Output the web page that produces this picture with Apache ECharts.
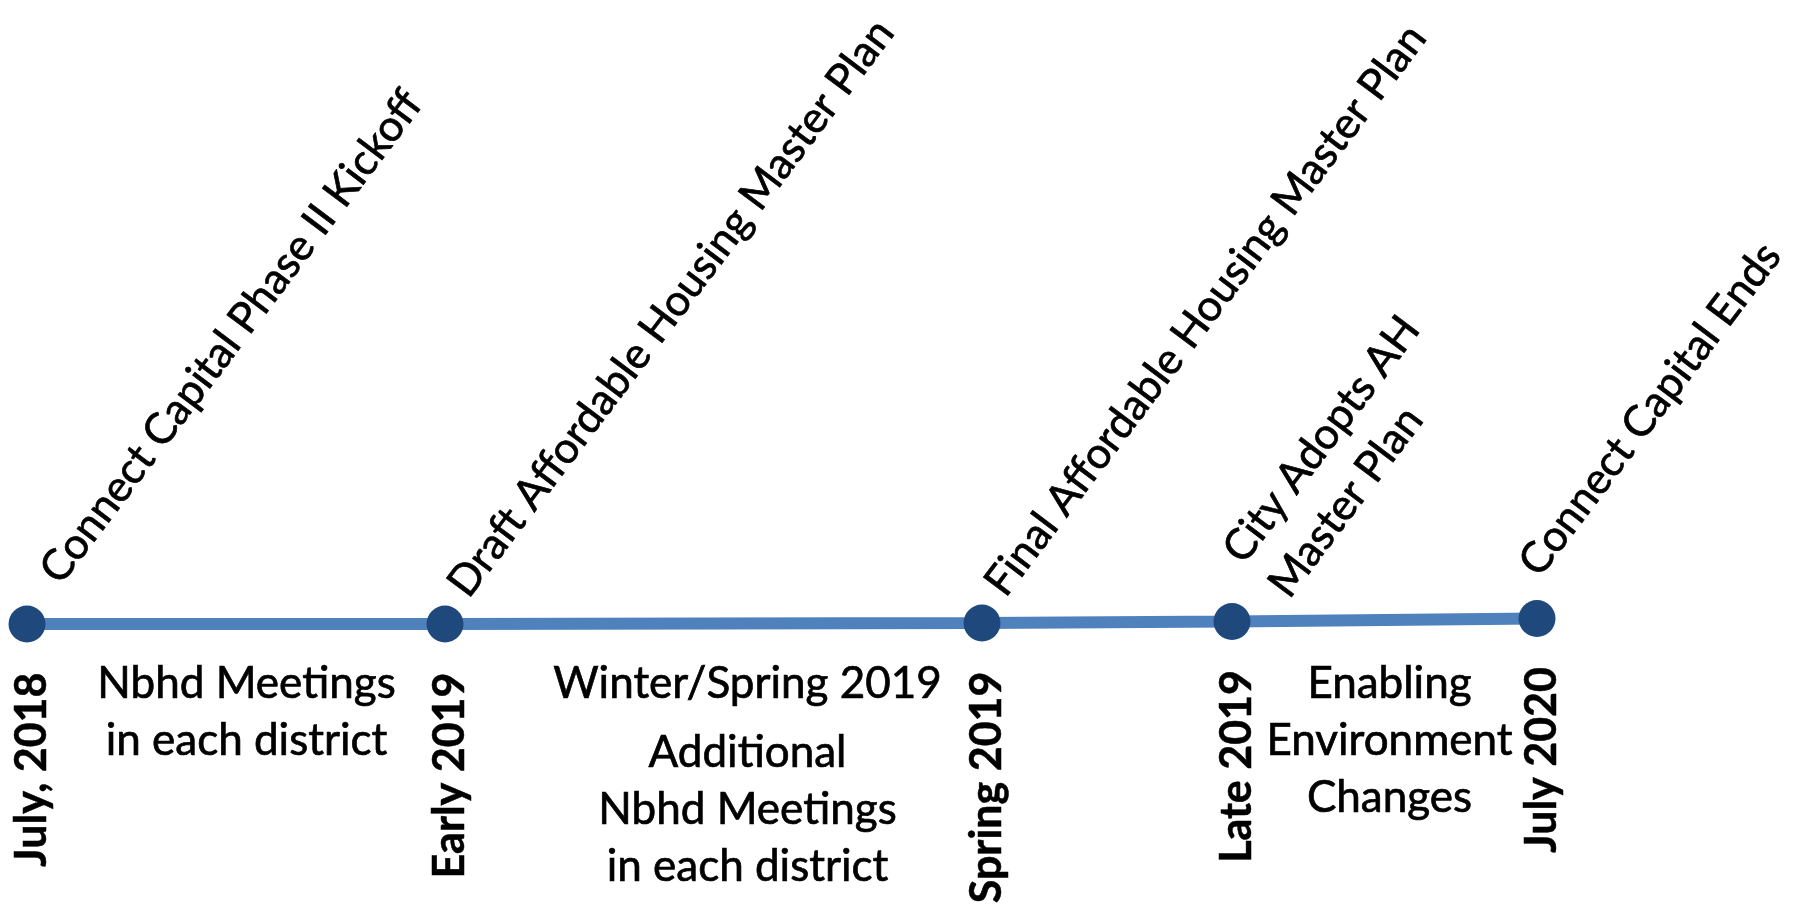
<!DOCTYPE html>
<html>
<head>
<meta charset="utf-8">
<title>Connect Capital Timeline</title>
<script src="https://cdn.jsdelivr.net/npm/echarts@6.0.0/dist/echarts.min.js"></script>
<style>
  html, body { margin: 0; padding: 0; background: #ffffff; }
  #chart { width: 1796px; height: 911px; }
</style>
</head>
<body>
<div id="chart"></div>
<script>
// Milestones of the Connect Capital programme
const milestoneDates = ['July, 2018', 'Early 2019', 'Spring 2019', 'Late 2019', 'July 2020'];
const milestoneEvents = [
  'Connect Capital Phase II Kickoff',
  'Draft Affordable Housing Master Plan',
  'Final Affordable Housing Master Plan',
  'City Adopts AH\nMaster Plan',
  'Connect Capital Ends'
];
// Where each milestone sits along the timeline
const milestonePos = [0, 4.18, 9.55, 12.05, 15.1];
// The timeline rises very slightly toward its end
const milestoneLevel = [0, 0, 0.1, 0.25, 0.55];

// Activities that run between milestones (a blank line starts a new paragraph)
const activityPos = [2.2, 7.21, 13.63];
const activityText = [
  'Nbhd Meetings\nin each district',
  'Winter/Spring 2019\n\nAdditional\nNbhd Meetings\nin each district',
  'Enabling\nEnvironment\nChanges'
];

const FONT = 'Lato';
const EVENT_SIZE = 43;
const NOTE_SIZE = 44;
const LINE_H = 57;
const EVENT_ANGLE = 53;
const INK = '#000000';
// a hairline outline gives the regular text a touch more weight
const inkWeight = { textBorderColor: INK, textBorderWidth: 0.7 };

// Slanted event captions: base anchor next to the dot, then a small
// per-caption nudge along the text direction and perpendicular to it
const EVENT_ANCHOR = [13, -32];
const eventAlong = [17, 0, 0, 18, 0];
const eventLift = [0, 0, 0, 0, 26];

const points = milestonePos.map((x, i) => [x, milestoneLevel[i]]);
const activityPoints = activityPos.map(x => [x, 0]);

const hidden = { color: 'rgba(0,0,0,0)', opacity: 1 };
const rad = EVENT_ANGLE * Math.PI / 180;
const cosA = Math.cos(rad);
const sinA = Math.sin(rad);

const chart = echarts.init(document.getElementById('chart'), null, { renderer: 'canvas' });

chart.setOption({
  animation: false,
  backgroundColor: '#ffffff',
  grid: { left: 0, right: 0, top: 0, bottom: 0 },
  xAxis: { type: 'value', min: -0.27, max: 17.69, show: false },
  yAxis: { type: 'value', min: -28.7, max: 62.4, show: false },
  series: [
    {
      // the timeline bar
      type: 'line',
      data: points,
      symbol: 'none',
      silent: true,
      lineStyle: { color: '#4F81BD', width: 12, cap: 'butt', opacity: 1 },
      z: 1
    },
    {
      // milestone dots
      type: 'scatter',
      data: points,
      symbol: 'circle',
      symbolSize: 37,
      silent: true,
      itemStyle: { color: '#1F497D', opacity: 1 },
      z: 3
    },
    {
      // event names, slanted above the dots
      type: 'scatter',
      data: points.map((p, i) => ({
        value: p,
        name: milestoneEvents[i],
        label: {
          position: [
            EVENT_ANCHOR[0] + eventAlong[i] * cosA - eventLift[i] * sinA,
            EVENT_ANCHOR[1] - eventAlong[i] * sinA - eventLift[i] * cosA
          ]
        }
      })),
      symbolSize: 1,
      silent: true,
      itemStyle: hidden,
      z: 4,
      label: Object.assign({
        show: true,
        rotate: EVENT_ANGLE,
        align: 'left',
        verticalAlign: 'middle',
        formatter: p => p.name,
        fontFamily: FONT,
        fontSize: EVENT_SIZE,
        lineHeight: LINE_H,
        color: INK
      }, inkWeight)
    },
    {
      // dates, set vertically under the dots
      type: 'scatter',
      data: points.map((p, i) => ({ value: p, name: milestoneDates[i] })),
      symbolSize: 1,
      silent: true,
      itemStyle: hidden,
      z: 4,
      label: {
        show: true,
        position: [6, 49],
        rotate: 90,
        align: 'right',
        verticalAlign: 'middle',
        formatter: p => p.name,
        fontFamily: FONT,
        fontWeight: 'bold',
        fontSize: EVENT_SIZE,
        color: INK,
        textBorderColor: INK,
        textBorderWidth: 0.5
      }
    },
    {
      // activity notes between milestones
      type: 'scatter',
      data: activityPoints.map((p, i) => ({ value: p, name: activityText[i] })),
      symbolSize: 1,
      silent: true,
      itemStyle: hidden,
      z: 4,
      label: Object.assign({
        show: true,
        position: [0, 32],
        align: 'center',
        verticalAlign: 'top',
        formatter: p => p.name.split('\n\n').join('\n{gap| }\n'),
        fontFamily: FONT,
        fontSize: NOTE_SIZE,
        lineHeight: LINE_H,
        color: INK,
        rich: {
          gap: { fontSize: 4, lineHeight: 12, textBorderWidth: 0 }
        }
      }, inkWeight)
    }
  ]
});
</script>
</body>
</html>
